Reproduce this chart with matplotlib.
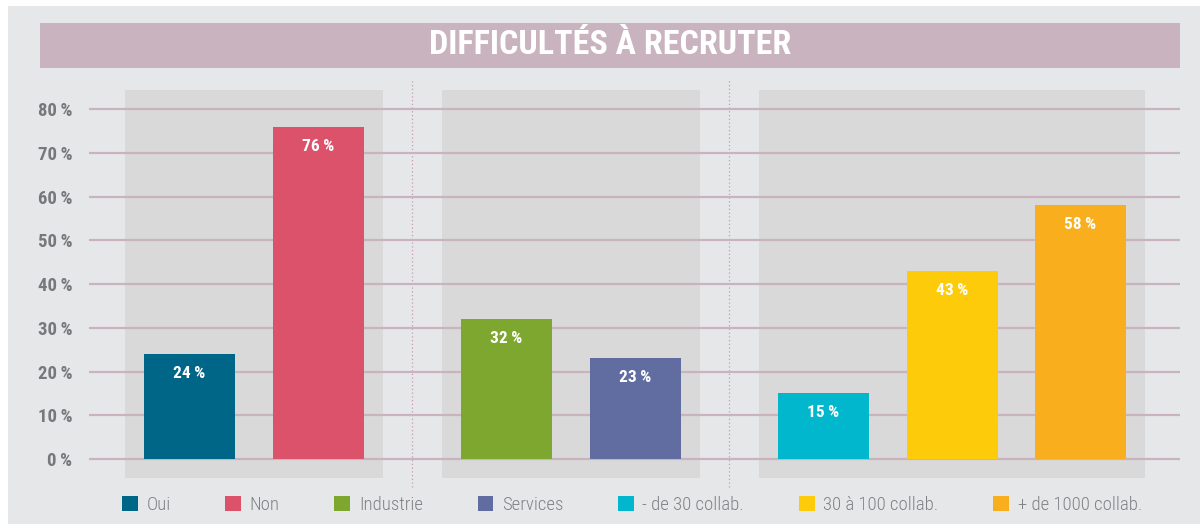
import matplotlib.pyplot as plt
from matplotlib.patches import Rectangle, Patch

categories = ["Oui", "Non", "Industrie", "Services",
              "- de 30 collab.", "30 à 100 collab.", "+ de 1000 collab."]
values = [24, 76, 32, 23, 15, 43, 58]
groups = [0, 0, 1, 1, 2, 2, 2]
colors = ["#006687", "#dc526a", "#7ea72f", "#616ca0",
          "#00b7cd", "#fecb0b", "#f9ae1d"]
yticks = [0, 10, 20, 30, 40, 50, 60, 70, 80]
title = "DIFFICULTÉS À RECRUTER"

W, H = 1200, 524
BG = "#e6e7e9"
PANEL = "#d9d9d9"
MAUVE = "#c9b3bf"
COND = ["Roboto Condensed", "Saira SemiCondensed", "Roboto", "DejaVu Sans"]

fig = plt.figure(figsize=(W / 100, H / 100), dpi=100, facecolor="white")
fig.patches.append(Rectangle((8 / W, 0), 1, 1 - 6 / H, transform=fig.transFigure,
                             facecolor=BG, edgecolor="none", zorder=-10))
# title band
fig.patches.append(Rectangle((40 / W, 1 - 68 / H), 1140 / W, 45 / H,
                             transform=fig.transFigure, facecolor=MAUVE,
                             edgecolor="none", zorder=-5))
fig.text(610 / W, 1 - 45.5 / H, title, color="white",
         fontsize=24.5, fontweight="bold", family=COND, ha="center", va="center")

# axes: x in pixel-like units, y in percent
ax = fig.add_axes([89 / W, (H - 478) / H, (1180 - 89) / W, 388 / H])
ax.set_facecolor("none")
ax.set_xlim(89, 1180)
ax.set_ylim(-4.35, 84.4)

step, gap, x0 = 128.5, 60, 189.5
xs = [x0 + i * step + g * gap for i, g in enumerate(groups)]
bw = 91

# group panels and separators
for g in sorted(set(groups)):
    gx = [x for x, gg in zip(xs, groups) if gg == g]
    ax.axvspan(gx[0] - 64.75, gx[-1] + 64.75, color=PANEL, lw=0, zorder=0)
    if g > 0:
        prev = [x for x, gg in zip(xs, groups) if gg == g - 1]
        sep = (prev[-1] + 64.75 + gx[0] - 64.75) / 2
        ax.axvline(sep, ymin=-0.023, ymax=1.026, color="#c99aac", lw=0.9,
                   ls=(0, (1, 2)), clip_on=False, zorder=1)

for y in yticks:
    ax.axhline(y, color=MAUVE, lw=1.6, zorder=1)

ax.bar(xs, values, width=bw, color=colors, zorder=2)
for x, v in zip(xs, values):
    ax.annotate(f"{v}\u2009%", (x, v), xytext=(0, -14), textcoords="offset points",
                ha="center", va="center", color="white", fontsize=12.5,
                fontweight="bold", family=COND, zorder=3)

ax.set_yticks(yticks)
ax.set_yticklabels([f"{y}\u2009%" for y in yticks], family=COND,
                   fontsize=13.5, fontweight="bold", color="#77787b")
ax.tick_params(axis="y", length=0, pad=12)
ax.set_xticks([])
for s in ax.spines.values():
    s.set_visible(False)

handles = [Patch(facecolor=c, edgecolor="none", label=l)
           for c, l in zip(colors, categories)]
fig.legend(handles=handles, ncol=7, loc="center", frameon=False,
           bbox_to_anchor=(632 / W, 1 - 505 / H),
           prop={"family": COND, "size": 13.5, "weight": 300},
           labelcolor="#808285", handlelength=0.85, handleheight=0.85,
           handletextpad=0.45, columnspacing=2.92)

fig.savefig("out.png", dpi=100, facecolor=fig.get_facecolor())
